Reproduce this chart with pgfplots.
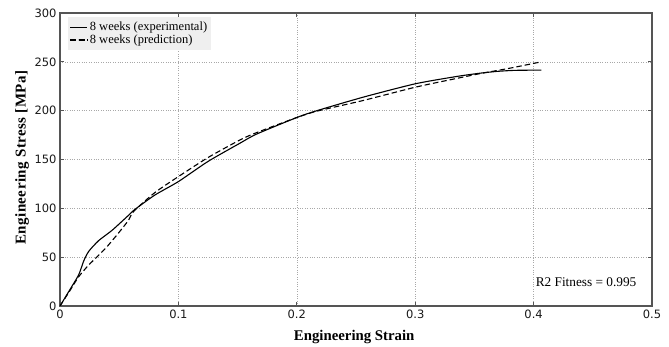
\documentclass[border=0pt]{standalone}
\usepackage{pgfplots}
\pgfplotsset{compat=1.18}
\usepackage{fontspec}
\setmainfont{Liberation Serif}
\newfontfamily\tickfont{DejaVu Sans}
\newfontfamily\ylabfont[LetterSpace=3]{Liberation Serif}
\definecolor{framegray}{HTML}{555555}
\definecolor{gridgray}{HTML}{A8A8A8}
\definecolor{legfill}{HTML}{EFEFEF}
\begin{document}
\begin{tikzpicture}
\useasboundingbox (-60pt,-41pt) rectangle (609pt,306pt);
\begin{axis}[
  at={(0pt,0pt)}, anchor=south west,
  scale only axis,
  width=592pt, height=293pt,
  xmin=0, xmax=0.5, ymin=0, ymax=300,
  xtick={0,0.1,...,0.5}, ytick={0,50,...,300},
  xticklabels={0,0.1,0.2,0.3,0.4,0.5},
  /pgf/number format/assume math mode=true,
  tick label style={font=\tickfont\fontsize{11.5}{13}\selectfont, text=black!90},
  grid=major,
  major grid style={gridgray, dotted, line width=0.6pt},
  axis line style={framegray, line width=1.2pt},
  tick style={framegray, line width=0.8pt},
  tick align=inside,
  major tick length=4pt,
  xlabel={\textbf{Engineering Strain}},
  ylabel={\textbf{\ylabfont Engineering Stress [MPa]}},
  xlabel style={font=\fontsize{14.8}{16}\selectfont, at={(axis description cs:0.497,0)}, anchor=center, yshift=-31pt},
  ylabel style={font=\fontsize{15}{16}\selectfont, at={(axis description cs:0,0.507)}, anchor=center, yshift=38pt},
  legend style={at={(8pt,289pt)}, anchor=north west, draw=none, fill=legfill,
    font=\fontsize{12.5}{12.5}\selectfont, row sep=-1.5pt, inner xsep=1.5pt, inner ysep=3pt},
  legend cell align=left,
]
\addplot[black, line width=1.1pt, smooth, tension=0.4] coordinates {
(0,0) (0.008,16) (0.0158,32) (0.020,46) (0.0243,56) (0.0327,67) (0.044,77.5)
(0.058,93) (0.0623,98) (0.08,113.5) (0.1,127.4) (0.125,148) (0.152,166.7) (0.166,176)
(0.2,193) (0.217,200) (0.256,213.8) (0.3,227.5) (0.335,235) (0.355,238.4)
(0.37,240.3) (0.385,241.3) (0.4065,241.5)
};
\addlegendentry{8 weeks (experimental)}
\addplot[black, line width=1.1pt, dash pattern=on 5.5pt off 3pt, smooth, tension=0.4] coordinates {
(0,0) (0.008,15) (0.0158,30) (0.0243,42) (0.0384,59) (0.0496,75) (0.058,88) (0.0623,97)
(0.08,116) (0.1,132.5) (0.125,152) (0.152,170) (0.166,177.5) (0.2,193)
(0.217,199.5) (0.256,210.4) (0.3,224) (0.335,233) (0.355,238) (0.38,243.5)
(0.4065,250)
};
\addlegendentry{8 weeks (prediction)}
\node[anchor=east, font=\fontsize{13.3}{15}\selectfont, inner sep=0pt] at (axis cs:0.487,23.9) {R2 Fitness = 0.995};
\end{axis}
\end{tikzpicture}
\end{document}
